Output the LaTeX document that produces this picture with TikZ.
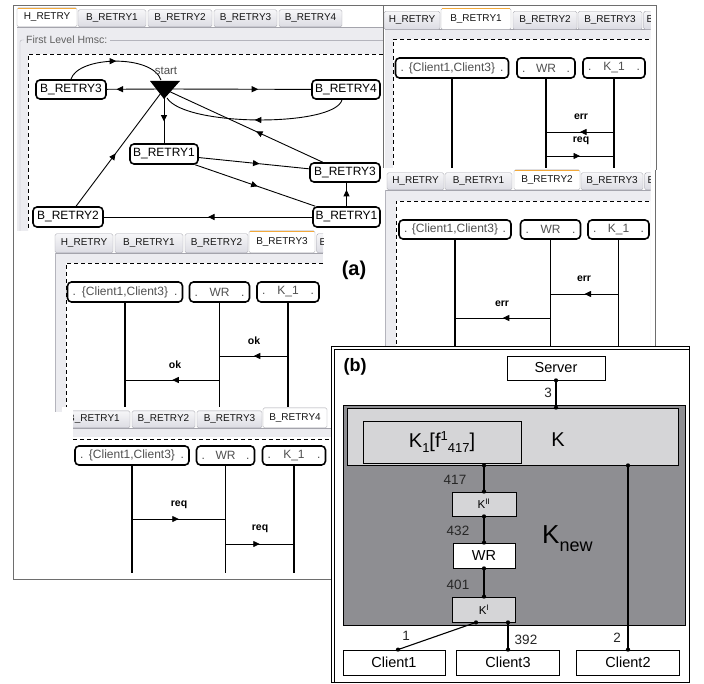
\documentclass[tikz,border=0pt]{standalone}
\usepackage{fontspec}
\setmainfont{Liberation Sans}
\usetikzlibrary{decorations.markings,arrows.meta}
\definecolor{panelgray}{HTML}{ECECF0}
\definecolor{tabline}{HTML}{A4A4AC}
\definecolor{tabtop}{HTML}{F6F6F8}
\definecolor{tabbot}{HTML}{DCDCE3}
\definecolor{tabtext}{HTML}{151515}
\definecolor{framec}{HTML}{6E6E6E}
\definecolor{orangetab}{HTML}{F2A93B}
\definecolor{gboxc}{HTML}{B4B4BC}
\definecolor{gtext}{HTML}{606060}
\definecolor{lltext}{HTML}{505050}
\definecolor{kgray}{HTML}{D5D5D7}
\definecolor{kngray}{HTML}{8E8E92}
\newcommand\tabf{\fontsize{10}{12}\selectfont}
\newcommand\hbf{\fontsize{12}{14}\selectfont}
\newcommand\llf{\fontsize{12}{14}\selectfont}
\newcommand\msgf{\fontsize{10.5}{12}\selectfont\bfseries}
\newcommand\pbf{\fontsize{14.5}{17}\selectfont}
\newcommand\numf{\fontsize{13.5}{16}\selectfont}
\newcommand\kif{\fontsize{11.5}{13}\selectfont}
\newcommand\bigk{\fontsize{20}{24}\selectfont}
\newcommand\smallsz{\fontsize{13}{15}\selectfont}
\newcommand\lltxt[2]{\makebox[#1]{\hspace{3pt}.\hfill#2\hfill.\hspace{3pt}}}
\begin{document}
\begin{tikzpicture}[x=1pt,y=-1pt,
 tabx/.style={draw=tabline, top color=tabtop, bottom color=tabbot, rounded corners=1.5, inner sep=0, anchor=south, minimum height=17, font=\tabf, text=tabtext},
 tabon/.style={tabx, top color=white, bottom color=white, minimum height=20},
 hbox/.style={draw=black, line width=1.6, rounded corners=4, fill=white, inner sep=0, minimum height=19, font=\hbf},
 llbox/.style={draw=black, line width=1.6, rounded corners=4, fill=white, inner sep=0, minimum height=20, font=\llf, text=lltext},
 lifeline/.style={line width=1.6},
 hedge/.style={line width=0.9, postaction={decorate}, decoration={markings, mark=at position #1 with {\arrow{Triangle[length=6.5pt,width=6pt]}}}},
 msg/.style={line width=0.8, postaction={decorate}, decoration={markings, mark=at position #1 with {\arrow{Triangle[length=6.5pt,width=6pt]}}}},
 msglbl/.style={font=\msgf, inner sep=0},
 dashline/.style={line width=0.9, dash pattern=on 4pt off 3pt},
 bbox/.style={draw=black, line width=0.8, inner sep=0},
 dot/.style={circle, fill=black, inner sep=0, minimum size=4.2},
 numlbl/.style={font=\numf, inner sep=0, text=black!85},
 link/.style={line width=1.1},
]
\useasboundingbox (0,0) rectangle (704,684);
\fill[white] (0,0) rectangle (704,684);

% ===== big left frame =====
\fill[white] (13,5) rectangle (331,579);
\draw[framec] (331,579) -- (13,579) -- (13,5) -- (385,5);

% ===== H_RETRY window =====
\fill[panelgray] (17,27) rectangle (383,231);
\draw[tabline] (17,27) -- (383,27);
\draw[gboxc, rounded corners=2] (24,40) -- (20,40) -- (20,231);
\draw[gboxc] (110,40) -- (383,40);
\node[anchor=west, inner sep=0, font=\fontsize{10.5}{12}\selectfont, text=gtext] (hmsc) at (26,40) {First Level Hmsc:};
\fill[white] (28,54) rectangle (383,231);
\draw[dashline] (383,54) -- (28,54) -- (28,231);
\node[tabx, minimum width=68] (ha2) at (112,27) {B\_RETRY1};
\node[tabx, minimum width=64] (ha3) at (180,27) {B\_RETRY2};
\node[tabx, minimum width=63] (ha4) at (245.5,27) {B\_RETRY3};
\node[tabx, minimum width=63] (ha5) at (310.5,27) {B\_RETRY4};
\node[tabon, minimum width=60, minimum height=19] (ha1) at (47,27) {H\_RETRY};
\draw[orangetab, line width=1.4] ([xshift=1.5,yshift=-0.7]ha1.north west) -- ([xshift=-1.5,yshift=-0.7]ha1.north east);

% graph
\coordinate (st) at (164,89);
\coordinate (sttop) at (161,80);
\coordinate (stbot) at (167,98);
\node[hbox, minimum width=70] (hb3a) at (71,89.5) {B\_RETRY3};
\node[hbox, minimum width=68] (hb4) at (346,89.5) {B\_RETRY4};
\node[hbox, minimum width=68, minimum height=20] (hb1a) at (164,154) {B\_RETRY1};
\node[hbox, minimum width=70] (hb3b) at (345,172.5) {B\_RETRY3};
\node[hbox, minimum width=70, minimum height=20] (hb2) at (68,217) {B\_RETRY2};
\node[hbox, minimum width=67, minimum height=20] (hb1b) at (346.5,217) {B\_RETRY1};
\draw[hedge=0.83] (st) -- (hb3a);
\draw[hedge=0.5] (hb3a.north) .. controls (78,56) and (152,54) .. (sttop);
\draw[hedge=0.64] (st) -- (hb4);
\draw[hedge=0.5] ([xshift=-4]hb4.south) .. controls (335,127) and (185,127) .. (stbot);
\draw[hedge=0.6] (st) -- (hb1a);
\draw[hedge=0.42] (hb3b) -- (st);
\draw[hedge=0.55] (hb1a) -- (hb3b);
\draw[hedge=0.52] (hb1a) -- (hb1b);
\draw[hedge=0.7] (hb1b.north) -- (hb1b.north |- hb3b.south);
\draw[hedge=0.5] (hb1b) -- (hb2);
\draw[hedge=0.45] (hb2) -- (st);
\fill[black] (150,81) -- (180,81) -- (164,99) -- cycle;
\node[font=\fontsize{11.5}{13}\selectfont, text=black!70, inner sep=0] (stlbl) at (166,71) {start};

% ===== B_RETRY1 window =====
\fill[white] (383,5) rectangle (656,170);
\begin{scope}
\clip (383,4) rectangle (650.5,171);
\fill[panelgray] (385,29.5) rectangle (656,170);
\draw[tabline] (385,29.5) -- (656,29.5);
\fill[white] (393,39) rectangle (656,170);
\draw[dashline] (656,39) -- (393,39) -- (393,170);
\node[tabx, minimum width=56, minimum height=18] (ba1) at (412,29.5) {H\_RETRY};
\node[tabx, minimum width=64, minimum height=18] (ba3) at (545,29.5) {B\_RETRY2};
\node[tabx, minimum width=64, minimum height=18] (ba4) at (610,29.5) {B\_RETRY3};
\node[tabx, minimum width=64, minimum height=18, anchor=south west, text width=58, align=left] (ba5) at (643.5,29.5) {B\_RETRY4};
\node[tabon, minimum width=70, minimum height=21] (ba2) at (476,29.5) {B\_RETRY1};
\draw[orangetab, line width=1.4] ([xshift=1.5,yshift=-0.7]ba2.north west) -- ([xshift=-1.5,yshift=-0.7]ba2.north east);
\end{scope}
\draw[framec] (383,5) -- (383,170);
\draw[framec] (383,5) -- (656,5) -- (656,170);
\node[llbox, minimum width=113] (c1) at (452,68) {\lltxt{109pt}{\{Client1,Client3\}}};
\node[llbox, minimum width=58] (w1) at (546,68) {\lltxt{54pt}{WR}};
\node[llbox, minimum width=62] (k1) at (614,68) {\lltxt{58pt}{K\_1}};
\draw[lifeline] (c1.south) -- (c1.south |- 0,170);
\draw[lifeline] (w1.south) -- (w1.south |- 0,170);
\draw[lifeline] (k1.south) -- (k1.south |- 0,170);
\draw[msg=0.5] (k1 |- 0,132) -- (w1 |- 0,132);
\draw[msg=0.5] (w1 |- 0,156) -- (k1 |- 0,156);
\node[msglbl] (m1a) at (581,117) {err};
\node[msglbl] (m1b) at (581,141) {req};

% ===== B_RETRY2 window =====
\fill[white] (383,168) rectangle (656,346);
\begin{scope}
\clip (383,167) rectangle (650.5,347);
\fill[panelgray] (385,190) rectangle (656,346);
\draw[tabline] (385,190) -- (656,190);
\fill[white] (396,201) rectangle (656,346);
\draw[dashline] (656,201) -- (396,201) -- (396,346);
\node[tabx, minimum width=57] (bb1) at (415.5,190) {H\_RETRY};
\node[tabx, minimum width=67] (bb2) at (478.5,190) {B\_RETRY1};
\node[tabx, minimum width=62] (bb4) at (612,190) {B\_RETRY3};
\node[tabx, minimum width=64, anchor=south west, text width=58, align=left] (bb5) at (644.5,190) {B\_RETRY4};
\node[tabon, minimum width=66] (bb3) at (547,190) {B\_RETRY2};
\draw[orangetab, line width=1.4] ([xshift=1.5,yshift=-0.7]bb3.north west) -- ([xshift=-1.5,yshift=-0.7]bb3.north east);
\end{scope}
\draw[framec] (655,170) -- (655,346) -- (385,346);
\draw[gboxc] (385,190) -- (385,346);
\node[llbox, minimum width=112, minimum height=19] (c2) at (455,229.5) {\lltxt{108pt}{\{Client1,Client3\}}};
\node[llbox, minimum width=60, minimum height=19] (w2) at (550.5,229.5) {\lltxt{56pt}{WR}};
\node[llbox, minimum width=61, minimum height=19] (k2) at (618.5,229.5) {\lltxt{57pt}{K\_1}};
\draw[lifeline] (c2.south) -- (c2.south |- 0,346);
\draw[lifeline] (w2.south) -- (w2.south |- 0,346);
\draw[lifeline] (k2.south) -- (k2.south |- 0,346);
\draw[msg=0.5] (k2 |- 0,294) -- (w2 |- 0,294);
\draw[msg=0.5] (w2 |- 0,318) -- (c2 |- 0,318);
\node[msglbl] (m2a) at (584,279) {err};
\node[msglbl] (m2b) at (502,304) {err};

% ===== B_RETRY3 window =====
\fill[white] (14,231) rectangle (330,412);
\fill[panelgray] (55,253) rectangle (323,412);
\draw[tabline] (55,253) -- (323,253);
\draw[gboxc] (55,253) -- (55,412);
\fill[white] (66,263) rectangle (323,412);
\draw[dashline] (323,263) -- (66,263) -- (66,412);
\begin{scope}
\clip (54,228) rectangle (323,254);
\node[tabx, minimum width=58, minimum height=19] (bc1) at (84,253) {H\_RETRY};
\node[tabx, minimum width=68, minimum height=19] (bc2) at (149,253) {B\_RETRY1};
\node[tabx, minimum width=63, minimum height=19] (bc3) at (216.5,253) {B\_RETRY2};
\node[tabx, minimum width=64, minimum height=19, anchor=south west, text width=58, align=left] (bc5) at (316.5,253) {B\_RETRY4};
\node[tabon, minimum width=66, minimum height=22] (bc4) at (282,253) {B\_RETRY3};
\draw[orangetab, line width=1.4] ([xshift=1.5,yshift=-0.7]bc4.north west) -- ([xshift=-1.5,yshift=-0.7]bc4.north east);
\end{scope}
\node[llbox, minimum width=115] (c3) at (125,292) {\lltxt{111pt}{\{Client1,Client3\}}};
\node[llbox, minimum width=60] (w3) at (219.5,292) {\lltxt{56pt}{WR}};
\node[llbox, minimum width=62] (k3) at (288,292) {\lltxt{58pt}{K\_1}};
\draw[lifeline] (c3.south) -- (c3.south |- 0,410);
\draw[lifeline] (w3.south) -- (w3.south |- 0,410);
\draw[lifeline] (k3.south) -- (k3.south |- 0,410);
\draw[msg=0.5] (k3 |- 0,356) -- (w3 |- 0,356);
\draw[msg=0.5] (w3 |- 0,380) -- (c3 |- 0,380);
\node[msglbl] (m3a) at (254,341) {ok};
\node[msglbl] (m3b) at (175,365) {ok};

% ===== B_RETRY4 window =====
\fill[white] (62,407) rectangle (331,579);
\begin{scope}
\clip (73,405) rectangle (332,440);
\fill[panelgray] (73,428) rectangle (331,437);
\draw[tabline] (73,428) -- (331,428);
\node[tabx, minimum width=72] (bd1) at (94,428) {B\_RETRY1};
\node[tabx, minimum width=63] (bd2) at (163.5,428) {B\_RETRY2};
\node[tabx, minimum width=65] (bd3) at (229.5,428) {B\_RETRY3};
\node[tabon, minimum width=64] (bd4) at (295,428) {B\_RETRY4};
\end{scope}
\draw[dashline] (73,439) -- (331,439);
\node[llbox, minimum width=114, minimum height=19] (c4) at (132,455.5) {\lltxt{110pt}{\{Client1,Client3\}}};
\node[llbox, minimum width=58, minimum height=19] (w4) at (225.5,455.5) {\lltxt{54pt}{WR}};
\node[llbox, minimum width=63, minimum height=19] (k4) at (294,455.5) {\lltxt{59pt}{K\_1}};
\draw[lifeline] (c4.south) -- (c4.south |- 0,573);
\draw[lifeline] (w4.south) -- (w4.south |- 0,573);
\draw[lifeline] (k4.south) -- (k4.south |- 0,573);
\draw[msg=0.5] (c4 |- 0,519) -- (w4 |- 0,519);
\draw[msg=0.5] (w4 |- 0,544) -- (k4 |- 0,544);
\node[msglbl] (m4a) at (179,505) {req};
\node[msglbl] (m4b) at (260,529) {req};
\draw[framec] (331,407) -- (331,579);

% (a) label
\node[font=\fontsize{20}{24}\selectfont\bfseries, inner sep=0] (alabel) at (354,270) {(a)};

% ===== panel (b) =====
\fill[white] (331,346) rectangle (689,682);
\draw[black, line width=0.8] (331,346) rectangle (689,682);
\draw[black, line width=0.6] (334.5,682) -- (334.5,349.5) -- (689,349.5);
\node[font=\fontsize{18}{22}\selectfont\bfseries, inner sep=0] (blabel) at (355,367) {(b)};
\node[bbox, fill=white, minimum width=98, minimum height=24, font=\pbf] (srv) at (556,368) {Server};
\node[bbox, fill=kngray, minimum width=342, minimum height=220] (knew) at (514,515) {};
\node[bbox, fill=kgray, minimum width=331, minimum height=57] (kbox) at (512.5,436.5) {};
\node[bbox, fill=kgray, minimum width=158, minimum height=42, font=\bigk] (kone) at (442,442)
  {K\raisebox{-5pt}{\smallsz 1}[f\raisebox{7pt}{\smallsz 1}\raisebox{-5pt}{\smallsz 417}]};
\node[font=\bigk, inner sep=0] (klbl) at (558,440) {K};
\node[anchor=base west, inner sep=0, font=\fontsize{26}{30}\selectfont] (knlbl) at (542,543)
  {K\raisebox{-8pt}{\fontsize{18}{20}\selectfont new}};
\node[bbox, fill=kgray, minimum width=64, minimum height=24, font=\kif] (kii) at (484,504) {K\textsuperscript{II}};
\node[bbox, fill=white, minimum width=62, minimum height=25, font=\pbf] (wrb) at (484,555.5) {WR};
\node[bbox, fill=kgray, minimum width=63, minimum height=25, font=\kif] (ki) at (484,609.5) {K\textsuperscript{I}};
\node[bbox, fill=white, minimum width=102, minimum height=25, font=\pbf] (cl1) at (394,662.5) {Client1};
\node[bbox, fill=white, minimum width=103, minimum height=25, font=\pbf] (cl3) at (508,662.5) {Client3};
\node[bbox, fill=white, minimum width=103, minimum height=25, font=\pbf] (cl2) at (628,662.5) {Client2};
\coordinate (ks) at (kii.north |- kbox.south);
\coordinate (kt) at (srv.south |- kbox.north);
\coordinate (k2s) at (cl2.north |- kbox.south);
\coordinate (kib1) at ([xshift=-8]ki.south);
\coordinate (kib3) at (cl3.north |- ki.south);
\coordinate (c1t) at ([xshift=4]cl1.north);
\draw[link] (srv.south) -- (kt);
\draw[link] (ks) -- (kii.north);
\draw[link] (kii.south) -- (wrb.north);
\draw[link] (wrb.south) -- (ki.north);
\draw[link] (kib1) -- (c1t);
\draw[link] (kib3) -- (cl3.north);
\draw[link] (k2s) -- (cl2.north);
\foreach \p/\n in {srv.south/d1, kt/d2, ks/d3, kii.north/d4, kii.south/d5, wrb.north/d6, wrb.south/d7, ki.north/d8, kib1/d9, kib3/d10, c1t/d11, cl3.north/d12, k2s/d13, cl2.north/d14}
  \node[dot] (\n) at (\p) {};
\node[numlbl] (n3) at (548,393) {3};
\node[numlbl] (n417) at (455,480) {417};
\node[numlbl] (n432) at (458,531) {432};
\node[numlbl] (n401) at (458,585) {401};
\node[numlbl] (n1) at (406,636) {1};
\node[numlbl] (n392) at (526,640) {392};
\node[numlbl] (n2) at (617,638) {2};
\end{tikzpicture}
\end{document}
